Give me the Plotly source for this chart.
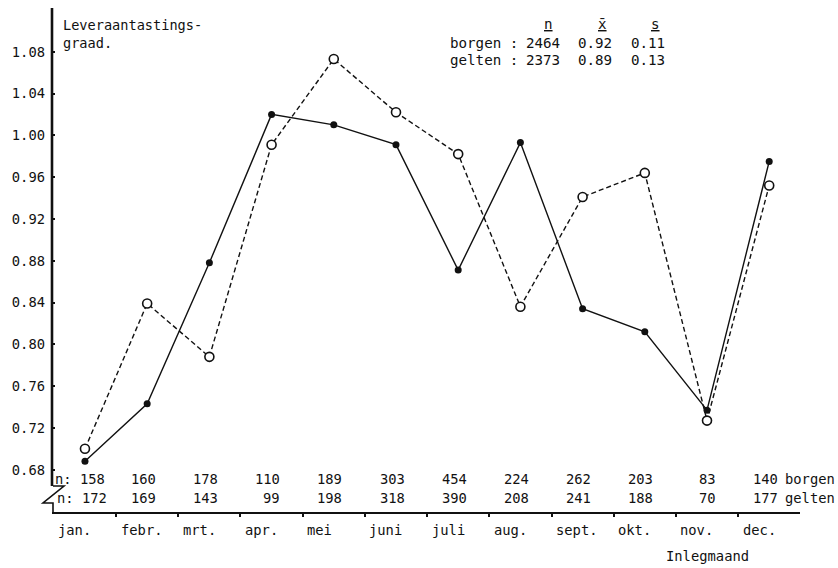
import plotly.graph_objects as go

# Monthly liver-fluke infection grade, two locations
months = ["jan.", "febr.", "mrt.", "apr.", "mei", "juni",
          "juli", "aug.", "sept.", "okt.", "nov.", "dec."]
borgen = [0.688, 0.743, 0.878, 1.020, 1.010, 0.991,
          0.871, 0.993, 0.834, 0.812, 0.737, 0.975]
gelten = [0.700, 0.839, 0.788, 0.991, 1.073, 1.022,
          0.982, 0.836, 0.941, 0.964, 0.727, 0.952]
n_borgen = [158, 160, 178, 110, 189, 303, 454, 224, 262, 203, 83, 140]
n_gelten = [172, 169, 143, 99, 198, 318, 390, 208, 241, 188, 70, 177]

# summary table: n, mean, sd
stat_names = ["borgen", "gelten"]
stat_n = [2464, 2373]
stat_mean = [0.92, 0.89]
stat_sd = [0.11, 0.13]

y_ticks = [0.68, 0.72, 0.76, 0.80, 0.84, 0.88, 0.92, 0.96, 1.00, 1.04, 1.08]

FONT = "DejaVu Sans Mono"
BLACK = "#111111"

# figure geometry (pixels)
W, H = 838, 568
ML, MR, MT, MB = 52, 38, 8, 56
PW, PH = W - ML - MR, H - MT - MB


def px_x(p):
    return (p - ML) / PW


def px_y(p):
    return (H - MB - p) / PH


x = list(range(len(months)))

fig = go.Figure()

fig.add_trace(go.Scatter(
    x=x, y=gelten, mode="lines+markers", name="gelten",
    line=dict(color=BLACK, width=1.4, dash="5px,3px"),
    marker=dict(symbol="circle", size=9, color="white",
                line=dict(color=BLACK, width=1.6)),
))
fig.add_trace(go.Scatter(
    x=x, y=borgen, mode="lines+markers", name="borgen",
    line=dict(color=BLACK, width=1.4),
    marker=dict(symbol="circle", size=7, color=BLACK),
))

annotations = []
lfont = dict(family=FONT, size=13.8, color=BLACK)

# month labels below the axis
for i, m in enumerate(months):
    annotations.append(dict(x=i - 0.46, y=px_y(530), xref="x", yref="paper",
                            text=m, showarrow=False, xanchor="left",
                            yanchor="middle", font=lfont))

# sample sizes per month; the first column carries the "n:" prefix
for row_y, left_px, counts in ((479, 53, n_borgen), (498, 55, n_gelten)):
    annotations.append(dict(x=px_x(left_px), y=px_y(row_y), xref="paper", yref="paper",
                            text=f"n: {counts[0]}", showarrow=False, xanchor="left",
                            yanchor="middle", font=lfont))
    for i, c in enumerate(counts[1:], start=1):
        annotations.append(dict(x=i + 0.17, y=px_y(row_y), xref="x", yref="paper",
                                text=str(c), showarrow=False, xanchor="right",
                                yanchor="middle", font=lfont))
for row_y, name in ((479, "borgen"), (498, "gelten")):
    annotations.append(dict(x=len(months) - 1 + 0.22, y=px_y(row_y), xref="x", yref="paper",
                            text=name, showarrow=False, xanchor="left", yanchor="middle",
                            font=lfont))

# y-axis title
annotations.append(dict(x=px_x(61), y=px_y(15), xref="paper", yref="paper",
                        text="Leveraantastings-<br>graad.", showarrow=False,
                        xanchor="left", yanchor="top", align="left",
                        font=dict(family=FONT, size=13.6, color=BLACK)))

# x-axis title
annotations.append(dict(x=px_x(707), y=px_y(556), xref="paper", yref="paper",
                        text="Inlegmaand", showarrow=False, xanchor="center",
                        yanchor="middle", font=lfont))

# summary table
tfont = dict(family=FONT, size=14.2, color=BLACK)
for hx, htext in ((548, "<u>n</u>"), (602, "<u>x̄</u>"), (655, "<u>s</u>")):
    annotations.append(dict(x=px_x(hx), y=px_y(24), xref="paper", yref="paper",
                            text=htext, showarrow=False, xanchor="center",
                            yanchor="middle", font=tfont))
for k, row_y in enumerate((43, 60)):
    annotations.append(dict(x=px_x(448), y=px_y(row_y), xref="paper", yref="paper",
                            text=f"{stat_names[k]} :", showarrow=False,
                            xanchor="left", yanchor="middle", font=tfont))
    annotations.append(dict(x=px_x(562), y=px_y(row_y), xref="paper", yref="paper",
                            text=str(stat_n[k]), showarrow=False,
                            xanchor="right", yanchor="middle", font=tfont))
    annotations.append(dict(x=px_x(614), y=px_y(row_y), xref="paper", yref="paper",
                            text=f"{stat_mean[k]:.2f}", showarrow=False,
                            xanchor="right", yanchor="middle", font=tfont))
    annotations.append(dict(x=px_x(667), y=px_y(row_y), xref="paper", yref="paper",
                            text=f"{stat_sd[k]:.2f}", showarrow=False,
                            xanchor="right", yanchor="middle", font=tfont))

y_top = 1.08 + (51.7 - 8) / 1045
y_bot = 1.08 - (512 - 51.7) / 1045
y_axis_end = 1.08 - (486 - 51.7) / 1045

shapes = [
    # vertical axis line, stopping above the break
    dict(type="line", xref="paper", yref="y", x0=0, x1=0, y0=y_axis_end, y1=y_top,
         line=dict(color=BLACK, width=2.6)),
    # axis break symbol joining the vertical axis to the month axis
    dict(type="path", xref="paper", yref="paper",
         path=(f"M {px_x(53)} {px_y(486)} L {px_x(64)} {px_y(486)} "
               f"L {px_x(43)} {px_y(503)} L {px_x(53)} {px_y(503)} "
               f"L {px_x(53)} {px_y(512)}"),
         line=dict(color=BLACK, width=1.6)),
]

fig.update_layout(
    width=W, height=H,
    margin=dict(l=ML, r=MR, t=MT, b=MB),
    paper_bgcolor="white", plot_bgcolor="white",
    showlegend=False,
    annotations=annotations,
    shapes=shapes,
    xaxis=dict(range=[-0.53, 11.495], showgrid=False, zeroline=False,
               showline=True, linecolor=BLACK, linewidth=2.4,
               tickvals=[i + 0.5 for i in range(len(months) - 1)],
               ticks="outside", ticklen=3, tickwidth=2, tickcolor=BLACK,
               showticklabels=False),
    yaxis=dict(range=[y_bot, y_top], showgrid=False, zeroline=False,
               showline=False, tickvals=y_ticks,
               ticktext=[f"{v:.2f}" for v in y_ticks],
               ticks="inside", ticklen=3, tickwidth=2, tickcolor=BLACK,
               ticklabelstandoff=6,
               tickfont=lfont),
)

fig.write_html("out.html")
